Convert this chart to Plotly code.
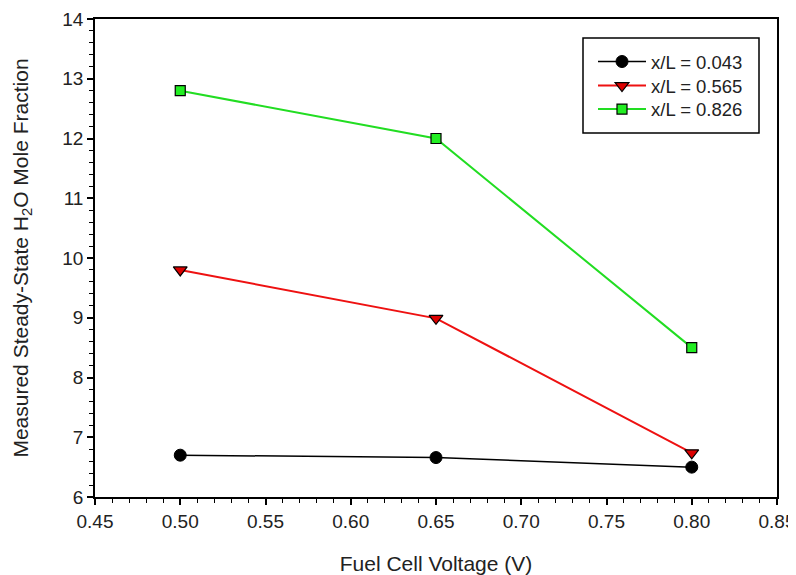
import plotly.graph_objects as go

voltage = [0.50, 0.65, 0.80]
s1_name = "x/L = 0.043"
s1 = [6.70, 6.66, 6.50]
s2_name = "x/L = 0.565"
s2 = [9.80, 8.99, 6.74]
s3_name = "x/L = 0.826"
s3 = [12.80, 12.00, 8.50]

FONT = "Liberation Sans, Arial, sans-serif"
TXT = "#222222"

# page offset (default body margin) and figure size
OFF = 8
FW, FH = 796 - OFF, 575 - OFF
# plot area in page pixels (reference)
L, R, T, B = 95, 777, 19, 497
W, H = R - L, B - T

fig = go.Figure()
fig.add_trace(go.Scatter(x=voltage, y=s1, name=s1_name, mode="lines+markers", legend="legend",
                         line=dict(color="black", width=1.5),
                         marker=dict(symbol="circle", size=12, color="black",
                                     line=dict(color="black", width=1))))
fig.add_trace(go.Scatter(x=voltage, y=s2, name=s2_name, mode="lines+markers", legend="legend2",
                         line=dict(color="#ee1111", width=2),
                         marker=dict(symbol="triangle-down", size=12, color="#dd0000",
                                     line=dict(color="black", width=1.2))))
fig.add_trace(go.Scatter(x=voltage, y=s3, name=s3_name, mode="lines+markers", legend="legend3",
                         line=dict(color="#22dd22", width=2),
                         marker=dict(symbol="square", size=10, color="#22ee22",
                                     line=dict(color="black", width=1.2))))

# legend frame
fig.add_shape(type="rect", xref="paper", yref="paper",
              x0=(583 - L) / W, x1=(759 - L) / W,
              y0=(B - 133) / H, y1=(B - 38) / H,
              line=dict(color="black", width=1.5), fillcolor="white", layer="below")


def leg(ypix):
    return dict(x=(593 - L) / W, y=(B - ypix) / H, xanchor="left", yanchor="middle",
                borderwidth=0, bgcolor="rgba(0,0,0,0)",
                font=dict(size=18.5, family=FONT, color=TXT), itemwidth=48)


fig.update_layout(
    width=FW, height=FH,
    margin=dict(l=L - OFF, r=796 - R, t=T - OFF, b=575 - B, autoexpand=False),
    paper_bgcolor="white", plot_bgcolor="white",
    font=dict(family=FONT, size=19, color=TXT),
    showlegend=True,
    legend=leg(62), legend2=leg(86), legend3=leg(109.5),
    xaxis=dict(range=[0.45, 0.85], tickmode="array", automargin=False,
               tickvals=[0.45, 0.50, 0.55, 0.60, 0.65, 0.70, 0.75, 0.80, 0.85],
               ticktext=["0.45", "0.50", "0.55", "0.60", "0.65", "0.70", "0.75", "0.80", "0.85"],
               ticks="outside", ticklen=6, tickwidth=1.5, tickcolor="black",
               showline=True, linecolor="black", linewidth=1.5, mirror=True,
               showgrid=False, zeroline=False,
               minor=dict(dtick=0.01, ticks="outside", ticklen=4, tickwidth=1.2, tickcolor="black"),
               tickfont=dict(size=19),
               title=dict(text="Fuel Cell Voltage (V)", font=dict(size=21), standoff=26)),
    yaxis=dict(range=[6, 14], dtick=1, tick0=6, automargin=False,
               ticks="outside", ticklen=6, tickwidth=1.5, tickcolor="black",
               showline=True, linecolor="black", linewidth=1.5, mirror=True,
               showgrid=False, zeroline=False,
               minor=dict(dtick=0.2, ticks="outside", ticklen=4, tickwidth=1.2, tickcolor="black"),
               tickfont=dict(size=19),
               title=dict(text="Measured Steady-State H<sub>2</sub>O Mole Fraction",
                          font=dict(size=21), standoff=28)),
)

fig.write_html("out.html")
